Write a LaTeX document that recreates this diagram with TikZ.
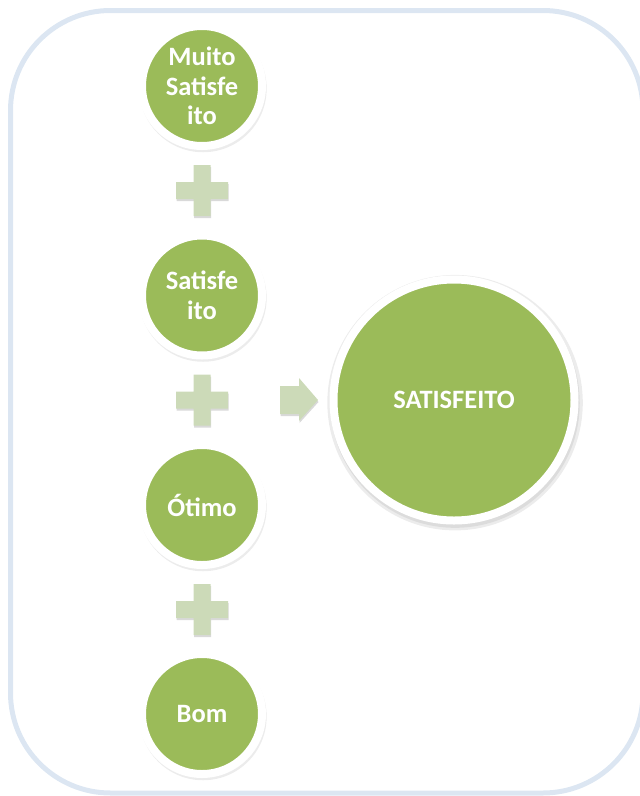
\documentclass[tikz,border=0pt]{standalone}
\usepackage{fontspec}
\setmainfont{Carlito}
\usetikzlibrary{shadows}

\definecolor{leafgreen}{RGB}{155,187,89}
\definecolor{palegreen}{RGB}{204,218,184}
\definecolor{frameblue}{RGB}{220,230,242}

\begin{document}
\begin{tikzpicture}[x=1pt,y=-1pt,
    bubble/.style={circle, fill=leafgreen, draw=white, line width=8pt,
        minimum size=120pt, inner sep=0pt, text=white, align=center,
        font=\fontsize{26.5}{29.5}\selectfont\bfseries,
        drop shadow={opacity=0.15, shadow xshift=1pt, shadow yshift=-2.5pt, shadow scale=1.06}},
    plusmark/.style={fill=palegreen,
        drop shadow={opacity=0.3, shadow xshift=0.5pt, shadow yshift=-2pt}}]
    \useasboundingbox (0,0) rectangle (640,796);
    \draw[frameblue, line width=5pt, rounded corners=100pt] (10.5,10.5) rectangle (643,793);
    % the four answers
    \node[bubble] (muito) at (202,86) {Muito\\Satisfe\\ito};
    \node[bubble] (satisf) at (202,295.5) {Satisfe\\ito};
    \node[bubble] (otimo) at (202,505) {Ótimo};
    \node[bubble] (bom) at (202,714) {Bom};
    \node[bubble, minimum size=241pt, drop shadow={opacity=0.15, shadow xshift=1pt, shadow yshift=-3pt, shadow scale=1.035}] (total) at (454,400) {SATISFEITO};
    % plus signs between them
    \foreach \yc in {190.5,400,609.5}
        \fill[plusmark] (193.5,\yc-25.5) -- (210.5,\yc-25.5) -- (210.5,\yc-8.5) -- (228,\yc-8.5)
            -- (228,\yc+8.5) -- (210.5,\yc+8.5) -- (210.5,\yc+25.5) -- (193.5,\yc+25.5)
            -- (193.5,\yc+8.5) -- (176,\yc+8.5) -- (176,\yc-8.5) -- (193.5,\yc-8.5) -- cycle;
    % arrow to the result
    \fill[plusmark] (280,386) -- (299,386) -- (299,378) -- (318,400) -- (299,421)
        -- (299,414) -- (280,414) -- cycle;
\end{tikzpicture}
\end{document}
